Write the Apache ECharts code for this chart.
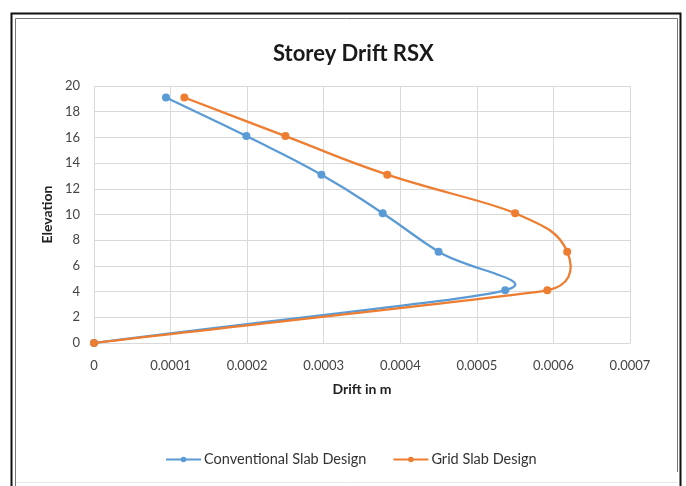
<!DOCTYPE html>
<html>
<head>
<meta charset="utf-8">
<script src="https://cdn.jsdelivr.net/npm/echarts@6/dist/echarts.min.js"></script>
<style>
  html, body { margin: 0; padding: 0; background: #ffffff; }
  #chart { width: 686px; height: 486px; }
</style>
</head>
<body>
<div id="chart"></div>
<script>
// Storey elevations (m) and drift values (m) for the two slab systems
const elevations = [0, 4.1, 7.1, 10.1, 13.1, 16.1, 19.1];
const conventionalDrift = [0, 0.000537, 0.00045, 0.000377, 0.000297, 0.000199, 0.000094];
const gridDrift = [0, 0.000592, 0.000618, 0.00055, 0.000383, 0.00025, 0.000118];
const seriesNames = ['Conventional Slab Design', 'Grid Slab Design'];
const seriesColors = ['#5b9bd5', '#ed7d31'];
const xTicks = [0, 0.0001, 0.0002, 0.0003, 0.0004, 0.0005, 0.0006, 0.0007];
const yTicks = [0, 2, 4, 6, 8, 10, 12, 14, 16, 18, 20];

const FONT = 'Lato, "Open Sans", sans-serif';
const pairs = (xs) => xs.map((x, i) => [x, elevations[i]]);

// Smoothed curve through the points: each point gets a tangent parallel to
// its neighbours' chord, with handles scaled by the shorter adjacent segment.
function smoothCurve(color) {
  return function (params, api) {
    if (params.dataIndexInside !== 0) return null;
    const n = params.dataInsideLength;
    const p = [];
    for (let i = 0; i < n; i++) p.push(api.coord([api.value(0, i), api.value(1, i)]));
    const dist = (a, b) => Math.hypot(b[0] - a[0], b[1] - a[1]);
    const tan = [], len = [];
    for (let i = 0; i < n; i++) {
      const a = p[Math.max(i - 1, 0)], b = p[Math.min(i + 1, n - 1)];
      const d = dist(a, b) || 1;
      tan.push([(b[0] - a[0]) / d, (b[1] - a[1]) / d]);
      const dPrev = i > 0 ? dist(p[i - 1], p[i]) : Infinity;
      const dNext = i < n - 1 ? dist(p[i], p[i + 1]) : Infinity;
      len.push(Math.min(dPrev, dNext) * 0.5);
    }
    const children = [];
    for (let i = 0; i < n - 1; i++) {
      children.push({
        type: 'bezierCurve',
        shape: {
          x1: p[i][0], y1: p[i][1],
          cpx1: p[i][0] + tan[i][0] * len[i], cpy1: p[i][1] + tan[i][1] * len[i],
          cpx2: p[i + 1][0] - tan[i + 1][0] * len[i + 1], cpy2: p[i + 1][1] - tan[i + 1][1] * len[i + 1],
          x2: p[i + 1][0], y2: p[i + 1][1]
        },
        style: { fill: null, stroke: color, lineWidth: 2.25, lineCap: 'round', lineJoin: 'round' }
      });
    }
    return { type: 'group', children: children };
  };
}

const chart = echarts.init(document.getElementById('chart'), null, { renderer: 'canvas' });

chart.setOption({
  backgroundColor: '#ffffff',
  animation: false,
  textStyle: { fontFamily: FONT },
  title: {
    text: 'Storey Drift RSX',
    left: 268,
    top: 38,
    textStyle: { fontFamily: FONT, fontWeight: 'bold', fontSize: 22, color: '#1a1a1a' }
  },
  grid: { left: 94, right: 56, top: 86, bottom: 143 },
  legend: {
    bottom: 14,
    left: 160,
    itemWidth: 35,
    itemHeight: 7,
    itemGap: 26,
    textStyle: { fontFamily: FONT, fontSize: 14.5, color: '#333', padding: [0, 0, 0, -2] },
    data: seriesNames.map((name, i) => ({
      name: name,
      lineStyle: { opacity: 1, width: 2, color: seriesColors[i] }
    }))
  },
  xAxis: {
    type: 'value',
    min: xTicks[0],
    max: xTicks[xTicks.length - 1],
    interval: 0.0001,
    name: 'Drift in m',
    nameLocation: 'middle',
    nameGap: 39,
    nameTextStyle: { fontFamily: FONT, fontWeight: 'bold', fontSize: 14, color: '#222' },
    axisLine: { show: true, lineStyle: { color: '#d9d9d9' } },
    axisTick: { show: false },
    axisLabel: {
      fontFamily: FONT, fontSize: 13, color: '#444', margin: 16,
      formatter: (v) => (v === 0 ? '0' : v.toFixed(4))
    },
    splitLine: { show: true, lineStyle: { color: '#d9d9d9', width: 1 } }
  },
  yAxis: {
    type: 'value',
    min: yTicks[0],
    max: yTicks[yTicks.length - 1],
    interval: 2,
    name: 'Elevation',
    nameLocation: 'middle',
    nameGap: 40,
    nameTextStyle: { fontFamily: FONT, fontWeight: 'bold', fontSize: 14, color: '#222' },
    axisLine: { show: false },
    axisTick: { show: false },
    axisLabel: { fontFamily: FONT, fontSize: 13, color: '#444', margin: 14 },
    splitLine: { show: true, lineStyle: { color: '#d9d9d9', width: 1 } }
  },
  series: [
    {
      name: 'conventional-curve',
      type: 'custom',
      data: pairs(conventionalDrift),
      renderItem: smoothCurve(seriesColors[0]),
      silent: true,
      z: 2
    },
    {
      name: 'grid-curve',
      type: 'custom',
      data: pairs(gridDrift),
      renderItem: smoothCurve(seriesColors[1]),
      silent: true,
      z: 3
    },
    {
      name: seriesNames[0],
      type: 'line',
      data: pairs(conventionalDrift),
      symbol: 'circle',
      symbolSize: 8,
      color: seriesColors[0],
      lineStyle: { opacity: 0 },
      itemStyle: { color: seriesColors[0] },
      z: 4
    },
    {
      name: seriesNames[1],
      type: 'line',
      data: pairs(gridDrift),
      symbol: 'circle',
      symbolSize: 8,
      color: seriesColors[1],
      lineStyle: { opacity: 0 },
      itemStyle: { color: seriesColors[1] },
      z: 5
    }
  ],
  graphic: [
    {
      type: 'rect',
      shape: { x: 11.5, y: 13.5, width: 669, height: 490 },
      style: { fill: null, stroke: '#111', lineWidth: 2 },
      silent: true
    },
    {
      type: 'polyline',
      shape: { points: [[15.5, 486], [15.5, 18.5], [677.5, 18.5], [677.5, 472]] },
      style: { fill: null, stroke: '#777', lineWidth: 1 },
      silent: true
    },
    {
      type: 'line',
      shape: { x1: 16, y1: 482.5, x2: 677, y2: 482.5 },
      style: { stroke: '#e6e6e6', lineWidth: 1 },
      silent: true
    }
  ]
});
</script>
</body>
</html>
